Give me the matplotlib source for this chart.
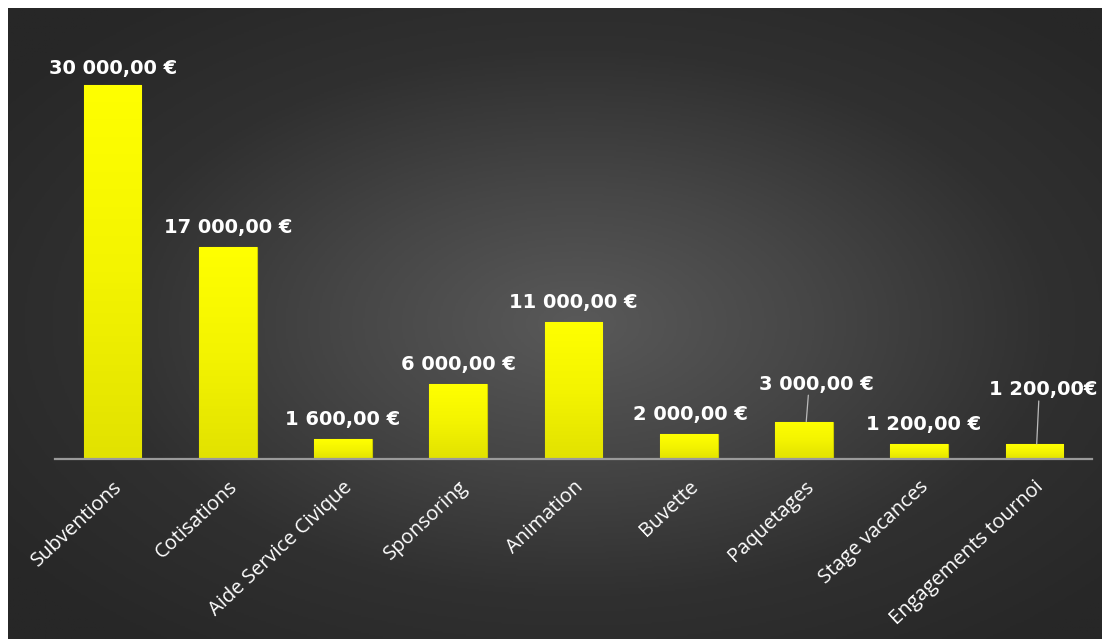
import numpy as np
import matplotlib.pyplot as plt
from matplotlib.colors import LinearSegmentedColormap

categories = ['Subventions', 'Cotisations', 'Aide Service Civique', 'Sponsoring',
              'Animation', 'Buvette', 'Paquetages', 'Stage vacances',
              'Engagements tournoi']
values = [30000, 17000, 1600, 6000, 11000, 2000, 3000, 1200, 1200]
value_labels = ['30 000,00 €', '17 000,00 €', '1 600,00 €', '6 000,00 €',
                '11 000,00 €', '2 000,00 €', '3 000,00 €', '1 200,00 €',
                '1 200,00€']

# label placement (offset in points from bar top / centre), leader lines
label_dx = [0, 0, 0, 0, 0, 1, 9, 3, 6]
label_dy = [12, 14, 14, 14, 14, 14, 27, 14, 39]
leader = [False, False, False, False, False, False, True, False, True]

W, H = 1102, 639
fig = plt.figure(figsize=(W / 100, H / 100), dpi=100)
fig.patch.set_facecolor('white')

# dark radial gradient background (white strip top/left like the original)
bg = fig.add_axes([8 / W, 0, 1 - 8 / W, 1 - 8 / H])
bg.set_axis_off()
yy, xx = np.mgrid[0:1:400j, 0:1:700j]
r = np.sqrt(((xx - 0.52) / 0.65) ** 2 + ((yy - 0.5) / 0.65) ** 2)
r = np.clip(r, 0, 1)
bg_cmap = LinearSegmentedColormap.from_list('bg', ['#595959', '#464646', '#303030', '#272727'])
bg.imshow(r, cmap=bg_cmap, aspect='auto', extent=(0, 1, 0, 1), vmin=0, vmax=1)
bg.set_xlim(0, 1)
bg.set_ylim(0, 1)

ax = fig.add_axes([55 / W, 180 / H, 1037 / W, 399 / H])
ax.patch.set_alpha(0)
x = np.arange(len(categories))
bars = ax.bar(x, values, width=0.5, color='#f2f200', edgecolor='#caca00',
              linewidth=0.8, zorder=2)

# yellow gradient inside each bar
bar_cmap = LinearSegmentedColormap.from_list('bar', ['#e2e200', '#f4f400', '#ffff00'])
grad = np.linspace(0, 1, 64).reshape(-1, 1)
for b in bars:
    im = ax.imshow(grad, cmap=bar_cmap, origin='lower', aspect='auto',
                   extent=(b.get_x(), b.get_x() + b.get_width(), 0, b.get_height()),
                   zorder=2.5)
    im.set_clip_path(b)

ax.set_xlim(-0.5, len(categories) - 0.5)
ax.set_ylim(0, 32000)

for i, (v, lab) in enumerate(zip(values, value_labels)):
    ax.annotate(lab, xy=(i, v), xytext=(label_dx[i], label_dy[i]),
                textcoords='offset points', ha='center', va='center',
                fontsize=14, fontweight='bold', color='white',
                family='DejaVu Sans', zorder=4)
    if leader[i]:
        ax.annotate('', xy=(i + 0.02, v), xytext=(1.5, label_dy[i] - 8),
                    textcoords='offset points',
                    arrowprops=dict(arrowstyle='-', color='#bbbbbb', lw=0.9,
                                    shrinkA=0, shrinkB=0))

for s in ['top', 'right', 'left']:
    ax.spines[s].set_visible(False)
ax.spines['bottom'].set_color('#9a9a9a')
ax.spines['bottom'].set_linewidth(1.6)
ax.spines['bottom'].set_zorder(3)
ax.set_yticks([])
ax.set_xticks(x)
ax.set_xticklabels(categories, rotation=43, ha='right', rotation_mode='anchor',
                   fontsize=14.5, color='white', family='Open Sans')
ax.tick_params(axis='x', length=0, pad=13)

fig.savefig('out.png', dpi=100, facecolor=fig.get_facecolor())
